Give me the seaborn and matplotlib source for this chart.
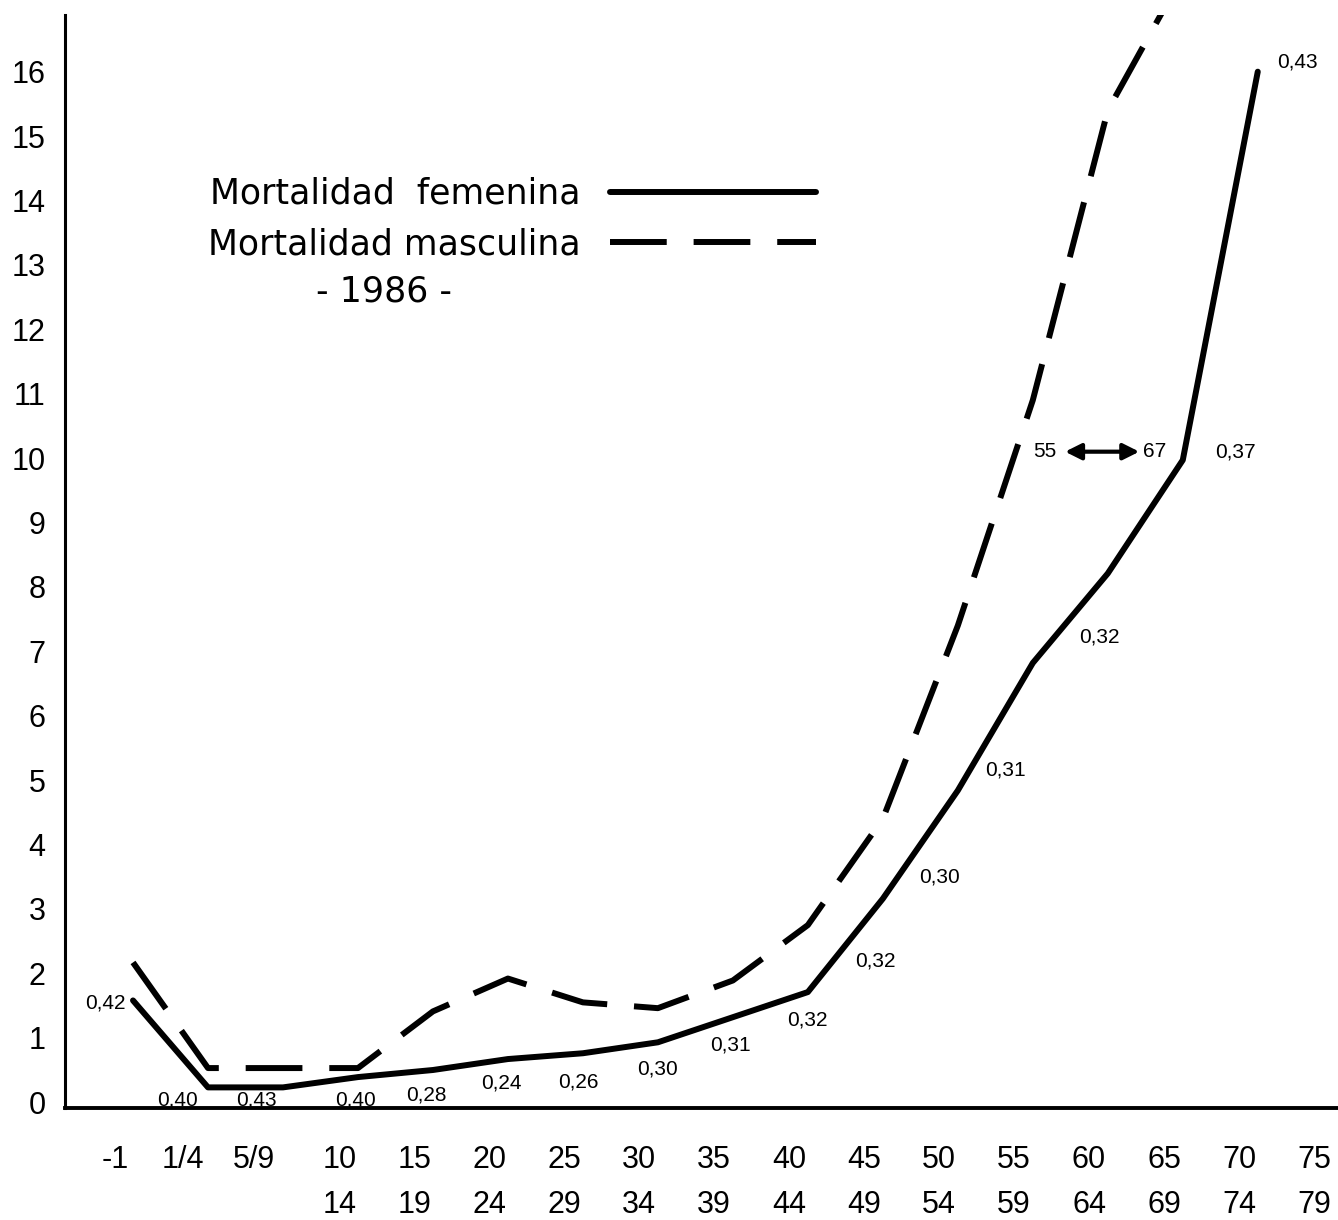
import numpy as np
import pandas as pd
import seaborn as sns
import matplotlib.pyplot as plt

# age groups (x labels) and mortality rates
age_labels = ['-1', '1/4', '5/9', '10\n14', '15\n19', '20\n24', '25\n29', '30\n34', '35\n39',
              '40\n44', '45\n49', '50\n54', '55\n59', '60\n64', '65\n69', '70\n74', '75\n79']
female = [1.58, 0.23, 0.23, 0.39, 0.50, 0.67, 0.76, 0.93, 1.32, 1.71, 3.16, 4.84,
          6.82, 8.21, 9.97, 16.0]
male = [2.17, 0.53, 0.53, 0.53, 1.41, 1.92, 1.55, 1.46, 1.89, 2.75, 4.4, 7.4,
        10.9, 15.4, 17.5]
ratio_labels = ['0,42', '0,40', '0,43', '0,40', '0,28', '0,24', '0,26', '0,30', '0,31',
                '0,32', '0,32', '0,30', '0,31', '0,32', '0,37', '0,43']
y_ticks = list(range(0, 17))

# label offsets in pixels (dx, dy down)
offsets = [(-28, 3), (-30, 13), (-27, 13), (-2, 23), (-7, 25), (-7, 24), (-5, 29), (0, 27),
           (-2, 28), (0, 28), (-7, 62), (-18, 87), (-27, 107), (-8, 64), (53, -8), (40, -10)]

df_f = pd.DataFrame({'x': np.arange(len(female)), 'y': female})
df_m = pd.DataFrame({'x': np.arange(len(male)), 'y': male})

sns.set_theme(style="white")
plt.rcParams['font.family'] = ['Liberation Sans', 'DejaVu Sans']
plt.rcParams['text.color'] = 'black'
plt.rcParams['xtick.color'] = 'black'
plt.rcParams['ytick.color'] = 'black'

fig = plt.figure(figsize=(13.38, 12.2), dpi=100)
ax = fig.add_axes([65 / 1338, 112 / 1220, 1 - 65 / 1338, (1108 - 15) / 1220])

sns.lineplot(data=df_f, x='x', y='y', color='black', linewidth=4.3, ax=ax,
             label='Mortalidad  femenina')
sns.lineplot(data=df_m, x='x', y='y', color='black', linewidth=4.3, ax=ax,
             linestyle=(0, (9.5, 4.5)), label='Mortalidad masculina')

ax.set_xlim(-0.907, 16.07)
ax.set_ylim(-0.09, 16.88)

tick_pos = [-0.24, 0.67, 1.61] + [2.75 + k for k in range(14)]
ax.set_xticks(tick_pos)
ax.set_xticklabels(age_labels, fontsize=22, linespacing=1.63)
ax.set_yticks(y_ticks)
ax.set_yticklabels([str(v) for v in y_ticks], fontsize=22)
ax.tick_params(axis='x', length=0, pad=27)
ax.tick_params(axis='y', length=0, pad=14)
ax.set_xlabel('')
ax.set_ylabel('')

for side in ['top', 'right']:
    ax.spines[side].set_visible(False)
for side in ['left', 'bottom']:
    ax.spines[side].set_color('black')
ax.spines['left'].set_linewidth(2.2)
ax.spines['bottom'].set_linewidth(2.8)

for i, txt in enumerate(ratio_labels):
    dx, dy = offsets[i]
    ax.annotate(txt, xy=(i, female[i]), xytext=(dx, -dy), textcoords='offset pixels',
                ha='center', va='center', fontsize=15)

# 55 <-> 67 note
ax.text(12.16, 10.1, '55', ha='center', va='center', fontsize=15)
ax.text(13.62, 10.1, '67', ha='center', va='center', fontsize=15)
ax.annotate('', xy=(13.42, 10.1), xytext=(12.43, 10.1),
            arrowprops=dict(arrowstyle='<|-|>', color='black', lw=3,
                            mutation_scale=24, shrinkA=0, shrinkB=0))

leg = ax.legend(loc='upper left', bbox_to_anchor=(208 / 1338, 1 - 177 / 1220),
                bbox_transform=fig.transFigure, frameon=False, markerfirst=False,
                handlelength=5.94, handletextpad=0.85, labelspacing=0.47,
                borderpad=0, borderaxespad=0, prop={'family': 'DejaVu Sans', 'size': 25})
ax.text(384 / 1338, 1 - 292 / 1220, '- 1986 -', transform=fig.transFigure,
        ha='center', va='center', fontsize=25, family='DejaVu Sans')

fig.savefig('out.png', dpi=100)
